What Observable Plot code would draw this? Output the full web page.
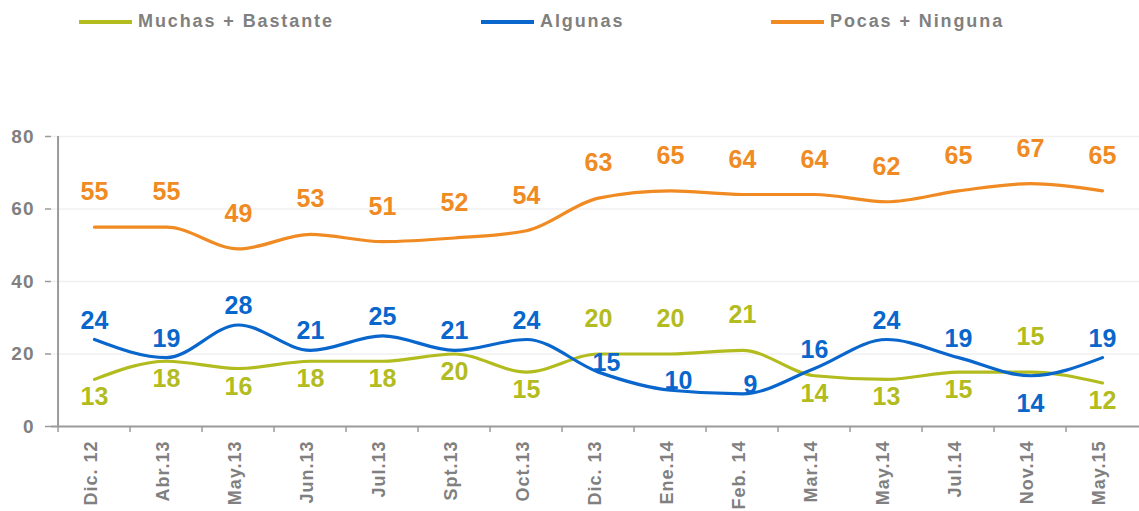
<!DOCTYPE html>
<html>
<head>
<meta charset="utf-8">
<script src="https://cdn.jsdelivr.net/npm/d3@7"></script>
<script src="https://cdn.jsdelivr.net/npm/@observablehq/plot@0.6"></script>
<style>
  html, body { margin: 0; padding: 0; background: #fff; overflow: hidden; }
  body { font-family: "Liberation Sans", Arial, sans-serif; width: 1139px; }
  #legend { position: relative; width: 1139px; height: 60px; }
  .item { position: absolute; top: 0; height: 43px; display: flex; align-items: center; }
  .sw { width: 53px; height: 4px; margin-right: 6px; }
  .lab { font-size: 18px; font-weight: bold; color: #808080; letter-spacing: 1.9px; white-space: nowrap; }
</style>
</head>
<body>
<div id="legend"></div>
<div id="chart"></div>
<script>
// ---- data ----
const periods = ["Dic. 12", "Abr.13", "May.13", "Jun.13", "Jul.13", "Spt.13", "Oct.13", "Dic. 13",
                 "Ene.14", "Feb. 14", "Mar.14", "May.14", "Jul.14", "Nov.14", "May.15"];
const muchasBastante = [13, 18, 16, 18, 18, 20, 15, 20, 20, 21, 14, 13, 15, 15, 12];
const algunas        = [24, 19, 28, 21, 25, 21, 24, 15, 10, 9, 16, 24, 19, 14, 19];
const pocasNinguna   = [55, 55, 49, 53, 51, 52, 54, 63, 65, 64, 64, 62, 65, 67, 65];
const seriesNames = ["Muchas + Bastante", "Algunas", "Pocas + Ninguna"];
const yTicks = [0, 20, 40, 60, 80];

// ---- styles ----
const seriesColors = ["#b3bc1e", "#0866cc", "#f08a22"];
const textGray = "#808080";
const axisGray = "#9a9a9a";

// ---- legend ----
const legendLefts = [79, 481, 771];
const legend = document.getElementById("legend");
seriesNames.forEach((name, i) => {
  const item = document.createElement("div");
  item.className = "item";
  item.style.left = legendLefts[i] + "px";
  item.innerHTML = `<div class="sw" style="background:${seriesColors[i]}"></div><span class="lab">${name}</span>`;
  legend.appendChild(item);
});

// ---- rows (label placement derived from the values to avoid collisions) ----
const valuesBySeries = [muchasBastante, algunas, pocasNinguna];
const rows = [];
seriesNames.forEach((s, si) => {
  periods.forEach((p, i) => {
    const v = valuesBySeries[si][i];
    let place = "above";
    if (si === 0) place = muchasBastante[i] > algunas[i] ? "above" : "below";
    if (si === 1) {
      const d = muchasBastante[i] - algunas[i];
      place = (d > 0 && d < 3) ? "below" : (d >= 3 ? "near" : "above");
    }
    rows.push({period: p, value: v, series: s, place});
  });
});

const bw = 72.9;
const x0 = 51;
const offsets = {
  "Muchas + Bastante": {above: -35, below: 18, near: -8},
  "Algunas": {above: -19, below: 28, near: -9},
  "Pocas + Ninguna": {above: -35, below: 28, near: -8}
};

const labelMarks = [];
seriesNames.forEach((s, si) => {
  ["above", "below", "near"].forEach(pl => {
    labelMarks.push(Plot.text(rows.filter(r => r.series === s && r.place === pl), {
      x: "period", y: "value", text: d => String(d.value),
      fill: seriesColors[si], fontSize: 25, fontWeight: "bold",
      dy: offsets[s][pl], dx: pl === "near" ? 8 : 0
    }));
  });
});

const chart = Plot.plot({
  width: 1139,
  height: 451,
  marginTop: 76,
  marginBottom: 85,
  marginLeft: 51,
  marginRight: 0,
  style: {fontFamily: "'Liberation Sans', Arial, sans-serif", background: "#fff"},
  x: {type: "band", domain: periods, range: [x0, x0 + bw * periods.length], padding: 0, label: null},
  y: {domain: [0, 80], range: [366, 76], label: null},
  color: {domain: seriesNames, range: seriesColors},
  marks: [
    Plot.ruleY(yTicks.filter(t => t > 0), {stroke: "#f0f0f0", strokeWidth: 1.5}),
    Plot.axisY({ticks: yTicks, tickSize: 6, tickPadding: 11, fontSize: 19, fontWeight: "bold",
                fill: textGray, stroke: axisGray, strokeWidth: 1.5, label: null}),
    Plot.axisX({fill: "none", tickSize: 6, dx: -bw / 2, stroke: axisGray, strokeWidth: 1.5, label: null}),
    Plot.axisX({tickSize: 0, tickRotate: -90, tickPadding: 14, fontSize: 18, fontWeight: "bold",
                fill: textGray, dx: -3, label: null}),
    Plot.ruleY([0], {stroke: axisGray, strokeWidth: 2}),
    Plot.ruleX([periods[0]], {y1: 0, y2: 80, dx: -bw / 2, stroke: axisGray, strokeWidth: 2}),
    Plot.line(rows, {x: "period", y: "value", z: "series", stroke: "series",
                     strokeWidth: 3.2, curve: "monotone-x"}),
    ...labelMarks
  ]
});
document.getElementById("chart").appendChild(chart);

// letter spacing on tick labels
d3.select(chart).selectAll('[aria-label="x-axis tick label"] text').attr("letter-spacing", "1px");
d3.select(chart).selectAll('[aria-label="y-axis tick label"] text').attr("letter-spacing", "1px");
</script>
</body>
</html>
